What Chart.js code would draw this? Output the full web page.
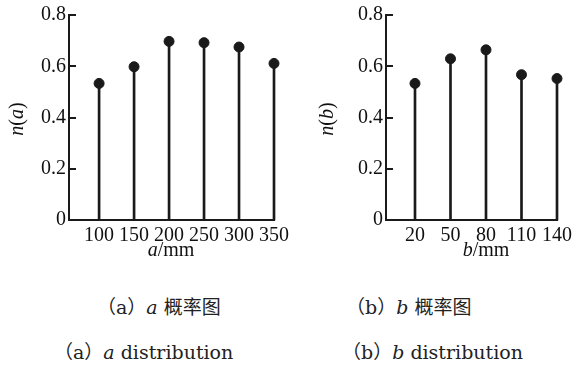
<!DOCTYPE html>
<html>
<head>
<meta charset="utf-8">
<script src="https://cdn.jsdelivr.net/npm/chart.js@4"></script>
<style>
  body { margin: 0; background: #fff; }
  #wrap { position: relative; width: 576px; height: 365px; overflow: hidden; }
  .box { position: absolute; top: 0; height: 262px; }
  .lbl { position: absolute; font-family: "Liberation Serif", serif; font-size: 20px; color: #111; white-space: nowrap; line-height: 1; }
  .ytitle { transform: translate(-50%, -50%) rotate(-90deg); }
  .xtitle { transform: translate(-50%, -50%); }
  .cap { position: absolute; font-family: "DejaVu Serif", "Noto Sans CJK SC", serif; font-size: 19px; color: #222; white-space: nowrap; line-height: 1; transform: translateY(-50%); }
  .cap .cn { font-family: "Noto Sans CJK SC", sans-serif; font-size: 19px; }
</style>
</head>
<body>
<div id="wrap">
  <div class="box" style="left:0; width:293px;"><canvas id="chartA" width="293" height="262"></canvas></div>
  <div class="box" style="left:290px; width:286px;"><canvas id="chartB" width="286" height="262"></canvas></div>

  <div class="lbl ytitle" style="left:16px; top:119px;"><i>n</i>(<i>a</i>)</div>
  <div class="lbl xtitle" style="left:171px; top:249px;"><i>a</i>/mm</div>
  <div class="lbl ytitle" style="left:326px; top:119px;"><i>n</i>(<i>b</i>)</div>
  <div class="lbl xtitle" style="left:486px; top:249px;"><i>b</i>/mm</div>

  <div class="cap" style="left:97px; top:306px;">（a）<i>a</i> <span class="cn">概率图</span></div>
  <div class="cap" style="left:54px; top:352px;">（a）<i>a</i> distribution</div>
  <div class="cap" style="left:346px; top:306px;">（b）<i>b</i> <span class="cn">概率图</span></div>
  <div class="cap" style="left:342px; top:352px;">（b）<i>b</i> distribution</div>
</div>
<script>
// widths a and b (mm) with their probabilities
const aValues = [100, 150, 200, 250, 300, 350];
const aProb = [0.533, 0.598, 0.697, 0.692, 0.675, 0.611];
const bValues = [20, 50, 80, 110, 140];
const bProb = [0.533, 0.629, 0.664, 0.567, 0.552];
const yTicks = [0, 0.2, 0.4, 0.6, 0.8];

const ink = '#1a1a1a';
const serif = 'Liberation Serif';

Chart.defaults.font.family = serif;

// short tick marks pointing into the plot on the y axis
const innerTicks = {
    id: 'innerTicks',
    afterDraw(chart) {
        const y = chart.scales.y;
        const ctx = chart.ctx;
        ctx.save();
        ctx.strokeStyle = ink;
        ctx.lineWidth = 2;
        yTicks.forEach(v => {
            const py = Math.round(y.getPixelForValue(v));
            ctx.beginPath();
            ctx.moveTo(chart.chartArea.left, py);
            ctx.lineTo(chart.chartArea.left + 7, py);
            ctx.stroke();
        });
        ctx.restore();
    }
};

function makeChart(id, xs, ys, xMin, xMax, yWidth, padRight) {
    const pts = xs.map((x, i) => ({ x: x, y: ys[i] }));
    return new Chart(document.getElementById(id).getContext('2d'), {
        type: 'bar',
        data: {
            datasets: [{
                type: 'scatter',
                data: pts,
                backgroundColor: ink,
                borderColor: ink,
                pointRadius: 5,
                clip: false,
                order: 0
            }, {
                type: 'bar',
                data: pts,
                backgroundColor: ink,
                barThickness: 2,
                clip: false,
                order: 1
            }]
        },
        options: {
            responsive: false,
            animation: false,
            layout: { padding: { top: 15, right: padRight, left: 0, bottom: 0 } },
            plugins: { legend: { display: false }, tooltip: { enabled: false } },
            scales: {
                x: {
                    type: 'linear',
                    min: xMin,
                    max: xMax,
                    offset: false,
                    afterBuildTicks: s => { s.ticks = xs.map(v => ({ value: v })); },
                    afterFit: s => { s.height = 42; },
                    grid: { display: false, drawTicks: false, offset: false },
                    border: { display: true, color: ink, width: 2 },
                    ticks: {
                        color: '#111',
                        padding: 4,
                        maxRotation: 0,
                        autoSkip: false,
                        font: { family: serif, size: 20 }
                    }
                },
                y: {
                    min: 0,
                    max: 0.8,
                    afterBuildTicks: s => { s.ticks = yTicks.map(v => ({ value: v })); },
                    afterFit: s => { s.width = yWidth; },
                    grid: { display: false, drawTicks: false },
                    border: { display: true, color: ink, width: 2 },
                    ticks: {
                        color: '#111',
                        padding: 3,
                        font: { family: serif, size: 20 },
                        callback: v => v === 0 ? '0' : v.toFixed(1)
                    }
                }
            }
        },
        plugins: [innerTicks]
    });
}

makeChart('chartA', aValues, aProb, 57, 350, 69, 15);
makeChart('chartB', bValues, bProb, -4.5, 140, 96, 15);
</script>
</body>
</html>
